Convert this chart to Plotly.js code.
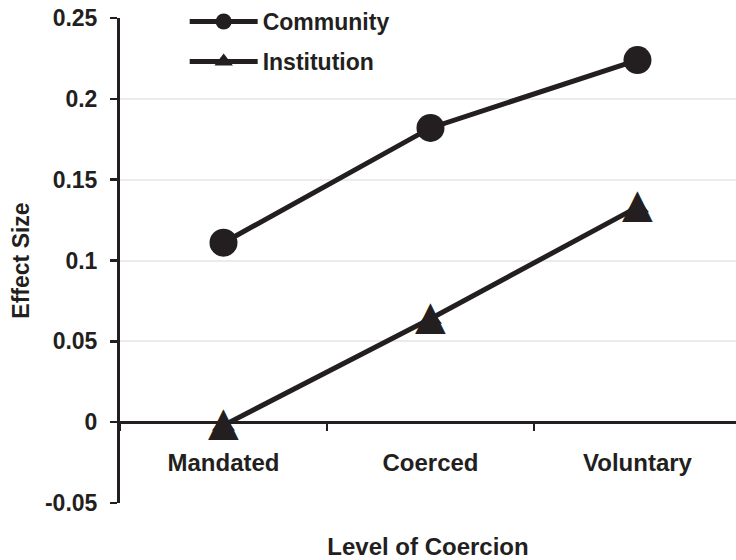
<!DOCTYPE html>
<html><head><meta charset="utf-8">
<script src="https://cdn.plot.ly/plotly-3.0.1.min.js"></script>
<style>html,body{margin:0;padding:0;background:#fff}#chart{width:736px;height:560px}</style>
</head><body><div id="chart"></div>
<script>
const categories = ['Mandated', 'Coerced', 'Voluntary'];
const community = [0.111, 0.182, 0.224];
const institution = [-0.002, 0.064, 0.133];
const yTickVals = [-0.05, 0, 0.05, 0.1, 0.15, 0.2, 0.25];
const yTickText = ['-0.05', '0', '0.05', '0.1', '0.15', '0.2', '0.25'];
const seriesNames = ['Community', 'Institution'];
const xTitle = 'Level of Coercion';
const yTitle = 'Effect Size';

const ink = '#231f20';
const fam = 'Liberation Sans, Arial, sans-serif';
const font = {family: fam, size: 24, color: ink, weight: 700};
const legendFont = {family: fam, size: 23, color: ink, weight: 700};

const traces = [
  {x: categories, y: community, name: seriesNames[0], legendgroup: 'a', type: 'scatter', mode: 'lines+markers',
   line: {color: ink, width: 5}, marker: {symbol: 'circle', size: 28, color: ink}, cliponaxis: false},
  {x: categories, y: institution, name: seriesNames[1], legendgroup: 'b', type: 'scatter', mode: 'lines+markers',
   line: {color: ink, width: 5}, marker: {symbol: 'triangle-up', size: 20, color: ink}, cliponaxis: false},
  {x: categories, y: institution, type: 'scatter', mode: 'text', showlegend: false, hoverinfo: 'skip',
   text: categories.map(() => '\u25B2'), textposition: 'middle center',
   textfont: {family: 'DejaVu Sans', size: 40, color: ink}, cliponaxis: false}
];

const layout = {
  width: 736, height: 560,
  margin: {l: 120, r: 0, t: 18, b: 57},
  paper_bgcolor: '#fff', plot_bgcolor: '#fff',
  font: font,
  showlegend: true,
  legend: {x: 0.105, y: 1.037, xanchor: 'left', yanchor: 'top', bgcolor: 'rgba(0,0,0,0)',
           font: legendFont, itemwidth: 68, traceorder: 'grouped', tracegroupgap: 7},
  xaxis: {
    type: 'category', range: [-0.5, 2.476], anchor: 'free', position: 0.167,
    showline: true, linecolor: ink, linewidth: 3, showgrid: false, zeroline: false,
    ticks: 'outside', tickson: 'boundaries', ticklen: 7, tickwidth: 2, tickcolor: ink,
    tickfont: font, ticklabelstandoff: 18,
    title: {text: xTitle, font: font, standoff: 64}
  },
  yaxis: {
    range: [-0.05, 0.25], tickvals: yTickVals, ticktext: yTickText,
    showline: true, linecolor: ink, linewidth: 3, showgrid: true, gridcolor: '#ebebeb', gridwidth: 2,
    zeroline: false, ticks: 'outside', ticklen: 7, tickwidth: 2.5, tickcolor: ink,
    tickfont: {family: fam, size: 23, color: ink, weight: 700}, ticklabelstandoff: 8,
    title: {text: yTitle, font: {family: fam, size: 23, color: ink, weight: 700}, standoff: 9}
  }
};

Plotly.newPlot('chart', traces, layout, {staticPlot: true, displayModeBar: false});
</script>
</body></html>
